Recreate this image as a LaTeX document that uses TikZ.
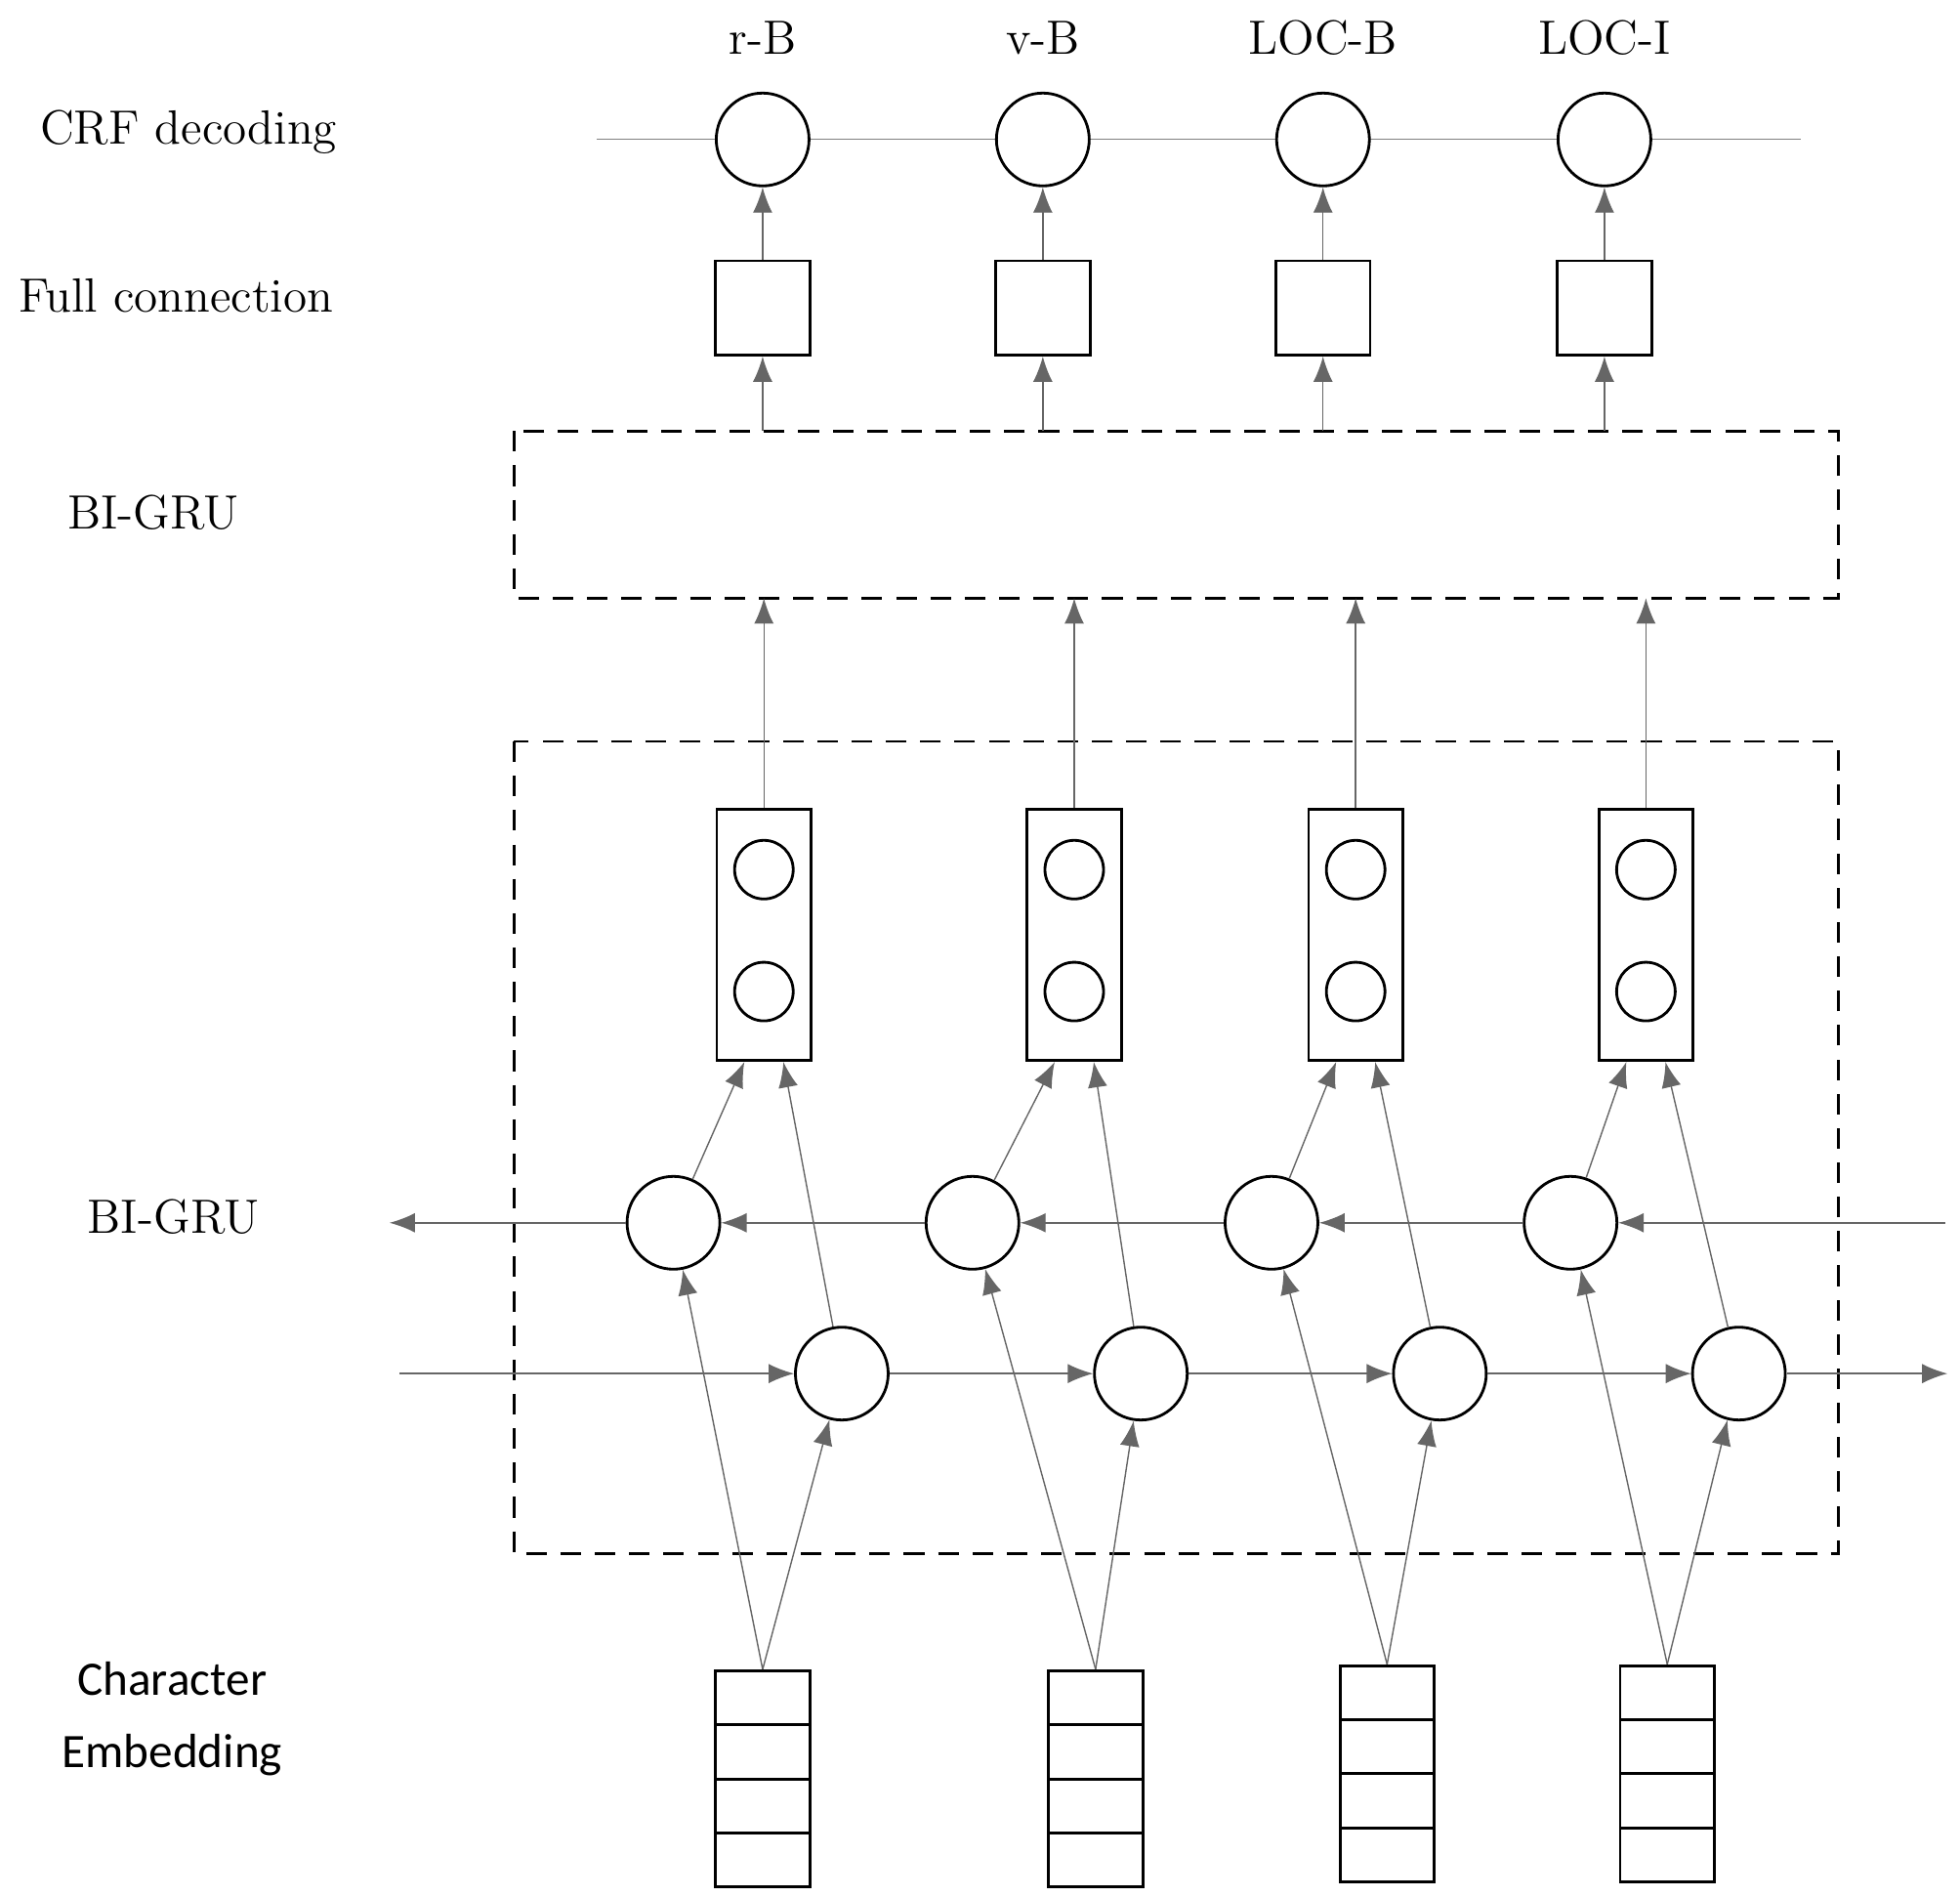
\documentclass[tikz,border=0pt]{standalone}
\usepackage{fontspec}
\newfontfamily\sansfam{Carlito}
\usetikzlibrary{arrows.meta}
\tikzset{
  u/.style={x=0.012866cm,y=-0.012866cm},
  lbl/.style={font=\fontsize{14}{17}\selectfont},
  bignode/.style={circle,draw,thick,minimum size=0.95cm,inner sep=0pt},
  small/.style={circle,draw,thick,minimum size=0.6cm,inner sep=0pt},
  sq/.style={rectangle,draw,thick,minimum size=0.965cm,inner sep=0pt},
  tall/.style={rectangle,draw,thick,minimum width=0.965cm,minimum height=2.57cm,inner sep=0pt},
  cell/.style={rectangle,draw,thick,minimum width=0.965cm,minimum height=0.555cm,inner sep=0pt},
  conn/.style={draw=gray!80!black,-{Latex[length=2.6mm,width=2mm]},shorten >=0pt},
  dbox/.style={draw,thick,dashed,dash pattern=on 6pt off 4pt},
}
\begin{document}
\begin{tikzpicture}[u]
\useasboundingbox (0,0) rectangle (1560,1509);
% left labels
\node[lbl] (l1) at (150,105) {CRF decoding};
\node[lbl] (l2) at (140,235) {Full connection};
\node[lbl] (l3) at (122,408) {BI-GRU};
\node[lbl] (l4) at (138,968) {BI-GRU};
\node[lbl,align=center,font=\sansfam\fontsize{14}{21}\selectfont] (l5) at (137,1368) {Character\\Embedding};
% CRF line
\draw[gray] (475,111) -- (1433,111);
% dashed boxes
\draw[dbox] (409,343) rectangle (1463,476);
\draw[dbox] (409,590) rectangle (1463,1236);
% forward / backward lines
\coordinate (bL) at (310,973);
\coordinate (bR) at (1548,973);
\coordinate (fL) at (318,1093);
\coordinate (fR) at (1550,1093);
\foreach \i/\x/\t/\rx/\bx/\fx/\ex/\ey in {1/607/r-B/608/536/670/607/1330,2/830/v-B/855/774/908/872/1330,3/1053/LOC-B/1079/1012/1146/1104/1326,4/1277/LOC-I/1310/1250/1384/1327/1326}{
  \node[lbl] (t\i) at (\x,30) {\t};
  \node[bignode,fill=white] (c\i) at (\x,111) {};
  \node[sq] (s\i) at (\x,245) {};
  \draw[conn] (s\i.north) -- (c\i.south);
  \coordinate (g\i) at (\x,343);
  \draw[conn] (g\i) -- (s\i.south);
  \node[tall] (r\i) at (\rx,744) {};
  \node[small] (ra\i) at (\rx,692) {};
  \node[small] (rb\i) at (\rx,789) {};
  \coordinate (h\i) at (\rx,476);
  \draw[conn] (r\i.north) -- (h\i);
  \node[bignode] (b\i) at (\bx,973) {};
  \node[bignode] (f\i) at (\fx,1093) {};
  \draw[conn] (b\i) -- ([xshift=-0.2cm]r\i.south);
  \draw[conn] (f\i) -- ([xshift=0.2cm]r\i.south);
  \node[cell] (e\i a) at (\ex,\ey+21) {};
  \node[cell] (e\i b) at (\ex,\ey+64) {};
  \node[cell] (e\i c) at (\ex,\ey+107) {};
  \node[cell] (e\i d) at (\ex,\ey+150) {};
  \draw[conn] (e\i a.north) -- (b\i);
  \draw[conn] (e\i a.north) -- (f\i);
}
\draw[conn] (bR) -- (b4);
\draw[conn] (b4) -- (b3);
\draw[conn] (b3) -- (b2);
\draw[conn] (b2) -- (b1);
\draw[conn] (b1) -- (bL);
\draw[conn] (fL) -- (f1);
\draw[conn] (f1) -- (f2);
\draw[conn] (f2) -- (f3);
\draw[conn] (f3) -- (f4);
\draw[conn] (f4) -- (fR);
\end{tikzpicture}
\end{document}
